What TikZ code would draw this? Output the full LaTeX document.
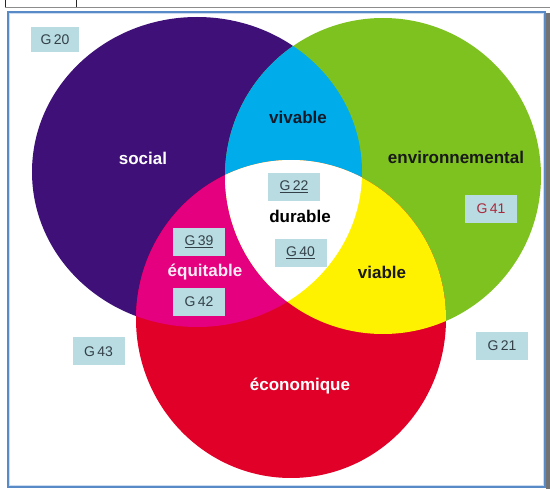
\documentclass[tikz,border=0pt]{standalone}
\usepackage{fontspec}
\setmainfont{Liberation Sans}
\definecolor{socialc}{RGB}{62,16,120}
\definecolor{envc}{RGB}{126,194,32}
\definecolor{ecoc}{RGB}{224,0,40}
\definecolor{vivc}{RGB}{0,172,234}
\definecolor{equc}{RGB}{228,0,126}
\definecolor{viac}{RGB}{255,242,0}
\definecolor{boxc}{RGB}{184,220,226}
\definecolor{gtext}{RGB}{52,64,72}
\definecolor{redtext}{RGB}{170,40,60}
\definecolor{framec}{RGB}{88,138,200}
\definecolor{darktext}{RGB}{20,26,40}
% the three sets of the diagram
\newcommand\socialset{(197,172) ellipse [x radius=165pt, y radius=155pt]}
\newcommand\envset{(383,176) circle [radius=158pt]}
\newcommand\ecoset{(291,319) ellipse [x radius=155pt, y radius=159pt]}
\begin{document}
\begin{tikzpicture}[x=1pt,y=-1pt,
  gbox/.style={fill=boxc, minimum width=52pt, minimum height=28pt, inner sep=0pt,
    text=gtext, font=\fontsize{14}{16}\selectfont},
  setlabel/.style={font=\fontsize{17}{20}\selectfont\bfseries, inner sep=0pt}]
\useasboundingbox (0,0) rectangle (550,489);
\fill[white] (0,0) rectangle (550,489);
% table rules above the frame
\draw[black!85, line width=0.8pt] (5,0) -- (5,7.5) (76,0) -- (76,7.5);
\draw[black!45, line width=0.8pt] (5,7.5) -- (550,7.5);
% picture frame with its shadow
\fill[black!55] (545.5,13) rectangle (550,489);
\draw[framec, line width=2pt] (8,12) rectangle (545,487);
\draw[framec!30, line width=1pt] (9.6,13.6) rectangle (543.4,485.4);

% the three sets
\fill[socialc] \socialset;
\fill[envc] \envset;
\fill[ecoc] \ecoset;
% pairwise overlaps
\begin{scope}
  \clip \socialset;
  \fill[vivc] \envset;
  \fill[equc] \ecoset;
\end{scope}
\begin{scope}
  \clip \envset;
  \fill[viac] \ecoset;
\end{scope}
% common core
\begin{scope}
  \clip \socialset;
  \clip \envset;
  \fill[white] \ecoset;
\end{scope}

% region labels
\node[setlabel, text=white] (social) at (143,158) {social};
\node[setlabel, text=darktext] (vivable) at (298,117) {vivable};
\node[setlabel, text=black!90] (env) at (456,157) {environnemental};
\node[setlabel, text=black] (durable) at (300,216) {durable};
\node[setlabel, text=black!90] (viable) at (382,272) {viable};
\node[setlabel, text=white!92!equc] (equitable) at (205,272) {équitable};
\node[setlabel, text=white] (eco) at (300,386) {économique};

% reference boxes
\node[gbox, minimum width=48pt, minimum height=25pt] (g20) at (55,40) {G\,20};
\node[gbox] (g22) at (294,187) {\underline{G\,22}};
\node[gbox] (g39) at (199,242) {\underline{G\,39}};
\node[gbox] (g40) at (300.5,253) {\underline{G\,40}};
\node[gbox] (g42) at (199,302) {G\,42};
\node[gbox, text=redtext] (g41) at (491,209) {G\,41};
\node[gbox] (g43) at (98.5,351.5) {G\,43};
\node[gbox] (g21) at (502,346) {G\,21};
\end{tikzpicture}
\end{document}
